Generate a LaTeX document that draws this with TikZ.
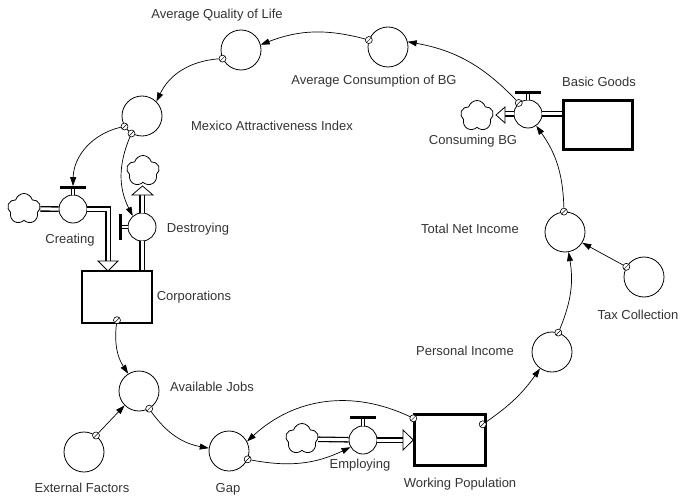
\documentclass[tikz,border=0pt]{standalone}
\usepackage{fontspec}
\setmainfont{Liberation Sans}
\usetikzlibrary{arrows.meta,shapes.symbols}

\begin{document}
\begin{tikzpicture}[x=1pt, y=1pt, font=\fontsize{13pt}{15pt}\selectfont,
    aux/.style = {circle, draw, line width=0.8pt, minimum size=40pt, inner sep=0pt},
    valve/.style = {circle, draw, line width=0.8pt, minimum size=28pt, inner sep=0pt},
    stock/.style = {draw, line width=2.4pt, inner sep=0pt},
    puff/.style = {cloud, cloud puffs=5, aspect=1, draw, line width=0.8pt, minimum width=33pt, minimum height=31pt, inner sep=0pt},
    pipe/.style = {double=white, double distance=3pt, line width=1.3pt},
    stem/.style = {double=white, double distance=1.5pt, line width=0.8pt},
    bar/.style = {line width=3pt},
    head/.style = {draw, line width=0.8pt, fill=white},
    link/.style = {line width=0.7pt, -{Triangle[length=9pt,width=6pt]}},
    tail/.style = {circle, draw, fill=white, line width=0.6pt, minimum size=7pt, inner sep=0pt,
        path picture={\draw[line width=0.5pt] (path picture bounding box.south west) -- (path picture bounding box.north east);}},
    lbl/.style = {text=black!80}]

    \useasboundingbox (0,0) rectangle (682,-497);

    % stocks
    \node[stock, minimum width=70pt, minimum height=52pt] (corp) at (117,-297) {};
    \node[stock, minimum width=71pt, minimum height=51pt] (wp) at (450,-440) {};
    \node[stock, minimum width=69pt, minimum height=49pt] (bg) at (598,-125) {};

    % converters
    \node[aux] (aql) at (241,-50) {};
    \node[aux] (acbg) at (388,-47) {};
    \node[aux] (mai) at (142,-116) {};
    \node[aux] (aj) at (139,-391) {};
    \node[aux] (ef) at (84,-452) {};
    \node[aux] (gap) at (229,-451) {};
    \node[aux] (pi) at (552,-352) {};
    \node[aux] (tni) at (565,-232) {};
    \node[aux] (tax) at (644,-277) {};

    % valves and clouds
    \node[valve] (cv) at (73,-209) {};
    \node[valve] (dv) at (142,-227) {};
    \node[valve] (ev) at (363,-440) {};
    \node[valve] (cbv) at (528,-114) {};
    \node[puff] (cc) at (24,-209) {};
    \node[puff] (cd) at (143,-171) {};
    \node[puff] (ce) at (302,-439) {};
    \node[puff] (cb) at (477,-116) {};

    % pipes
    \draw[pipe] (cc) -- (cv);
    \draw[pipe] (cv.east) -- (108,-209) -- (108,-261);
    \draw[head] (98,-261) -- (118,-261) -- (108,-271) -- cycle;
    \draw[pipe] (dv.south) -- (dv.south |- corp.north);
    \draw[pipe] (dv.north) -- ++(0,18);
    \draw[head] (132,-195) -- (153,-195) -- (142.5,-186) -- cycle;
    \draw[pipe] (ce) -- (ev);
    \draw[pipe] (ev.east) -- (403,-440);
    \draw[head] (403,-430) -- (403,-450) -- (wp.west) -- cycle;
    \draw[pipe] (cbv.east) -- (cbv.east -| bg.west);
    \draw[pipe] (cbv.west) -- ++(-9,0);
    \draw[head] (505,-107) -- (505,-123) -- (496,-115) -- cycle;

    % valve handles
    \draw[stem] (cv.north) -- ++(0,7);
    \draw[bar] ([shift={(-13,7)}]cv.north) -- ++(26,0);
    \draw[stem] (dv.west) -- ++(-7,0);
    \draw[bar] ([shift={(-7,13)}]dv.west) -- ++(0,-26);
    \draw[stem] (ev.north) -- ++(0,8);
    \draw[bar] ([shift={(-13,8)}]ev.north) -- ++(26,0);
    \draw[stem] (cbv.north) -- ++(0,7);
    \draw[bar] ([shift={(-13,7)}]cbv.north) -- ++(26,0);
    \coordinate (cvtop) at ([yshift=8.5pt]cv.north);

    % connectors
    \node[tail] (t1) at (tni.93) {};
    \node[tail] (t2) at (cbv.130) {};
    \node[tail] (t3) at (acbg.160) {};
    \node[tail] (t4) at (aql.205) {};
    \node[tail] (t5) at (mai.211) {};
    \node[tail] (t6) at (mai.239) {};
    \node[tail] (t7) at ([yshift=4pt]corp.south) {};
    \node[tail] (t8) at (ef.54) {};
    \node[tail] (t9) at (aj.-60) {};
    \node[tail] (t10) at (gap.-24) {};
    \node[tail] (t11) at ([yshift=-5pt]wp.north west) {};
    \node[tail] (t12) at ([shift={(-4,-11)}]wp.north east) {};
    \node[tail] (t13) at (pi.72) {};
    \node[tail] (t14) at (tax.150) {};

    \draw[link] (t1) to[bend right=17] (cbv.-55);
    \draw[link] (t2) to[bend right=18] (acbg.15);
    \draw[link] (t3) to[bend right=18] (aql.15);
    \draw[link] (t4) to[bend right=30] (mai.45);
    \draw[link] (t5) to[bend right=38] (cvtop);
    \draw[link] (t6) to[bend right=25] (dv.130);
    \draw[link] (t7) to[bend right=20] (aj.122);
    \draw[link] (t8) -- (aj.225);
    \draw[link] (t9) to[bend right=22] (gap.172);
    \draw[link] (t10) to[bend right=18] (ev.210);
    \draw[link] (t11) to[bend right=34] (gap.28);
    \draw[link] (t12) to[bend right=10] (pi.234);
    \draw[link] (t13) to[bend right=16] (tni.-80);
    \draw[link] (t14) -- (tni.-32);

    % labels
    \node[lbl] (laql) at (217,-15) {Average Quality of Life};
    \node[lbl] (lacbg) at (374,-81) {Average Consumption of BG};
    \node[lbl] (lmai) at (272,-126) {Mexico Attractiveness Index};
    \node[lbl] (lcv) at (70,-240) {Creating};
    \node[lbl] (ldv) at (198,-229) {Destroying};
    \node[lbl] (lcorp) at (194,-297) {Corporations};
    \node[lbl] (laj) at (212,-387) {Available Jobs};
    \node[lbl] (lef) at (82,-488) {External Factors};
    \node[lbl] (lgap) at (228,-489) {Gap};
    \node[lbl] (lev) at (360,-465) {Employing};
    \node[lbl] (lwp) at (460,-484) {Working Population};
    \node[lbl] (lpi) at (465,-351) {Personal Income};
    \node[lbl] (ltni) at (470,-229) {Total Net Income};
    \node[lbl] (ltax) at (638,-315) {Tax Collection};
    \node[lbl] (lcb) at (473,-141) {Consuming BG};
    \node[lbl] (lbg) at (599,-82) {Basic Goods};

\end{tikzpicture}
\end{document}
